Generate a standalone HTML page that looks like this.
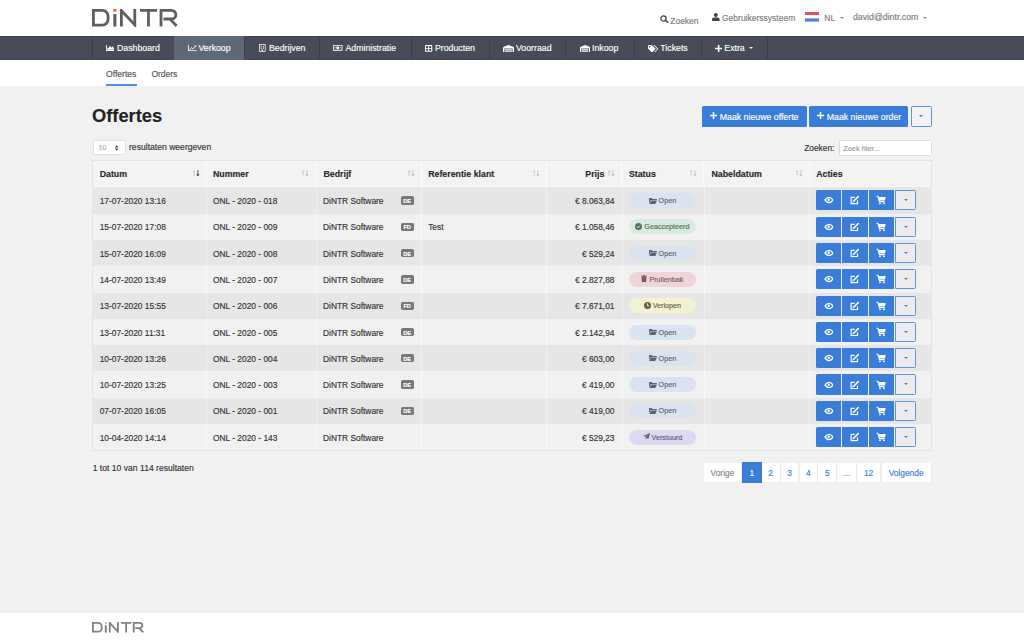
<!DOCTYPE html>
<html><head><meta charset="utf-8">
<style>
*{box-sizing:border-box;margin:0;padding:0}
html,body{width:1024px;height:640px;overflow:hidden;background:#f1f1f1;font-family:"Liberation Sans",sans-serif;color:#333}
body{-webkit-text-stroke:0.15px}
.a{position:absolute;white-space:nowrap}
#top{position:absolute;left:0;top:0;width:1024px;height:35.5px;background:#fff}
#nav{position:absolute;left:0;top:35.6px;width:1024px;height:24.6px;background:#474c58;border-top:1px solid #3d414d;border-bottom:1.5px solid #414556}
#sub{position:absolute;left:0;top:60.2px;width:1024px;height:25.5px;background:#fff}
#foot{position:absolute;left:0;top:612.8px;width:1024px;height:28px;background:#fff;box-shadow:0 -1px 4px rgba(0,0,0,.02)}
.nv{position:absolute;top:-1px;height:24.6px;border-left:1px solid #3c404b}
.nt{position:absolute;top:-0.4px;line-height:25px;color:#fff;font-size:8.75px;white-space:nowrap}
.ht{font-size:8.5px;color:#7d7d7d}
.tb{position:absolute;left:92px;width:840px}
.row{position:absolute;left:0;width:840px;height:26.3px}
.odd{background:#e6e6e6}
.even{background:#f1f1f1}
.c{position:absolute;top:0;height:100%;border-left:1px solid rgba(255,255,255,.45)}
.tx{position:absolute;font-size:8.4px;color:#333;white-space:nowrap;line-height:10px}
.th{position:absolute;font-size:8.8px;font-weight:bold;color:#2a2a2a;white-space:nowrap;line-height:10px}
.bdg{position:absolute;width:13.3px;height:8.3px;background:#777;border-radius:1.8px;color:#fff;font-size:5.6px;font-weight:bold;text-align:center;line-height:8.3px;padding-top:0.7px}
.st{position:absolute;left:7.2px;top:5.8px;width:67.2px;height:15px;border-radius:7.5px;font-size:7.2px;line-height:15px;text-align:center;white-space:nowrap}
.st svg{vertical-align:-0.5px;margin-right:2px}
.bt{position:absolute;top:3.1px;height:20.1px;background:#3a7dd8;border-radius:1px}
.bt svg{position:absolute;left:50%;top:50%;transform:translate(-50%,-50%)}
.dd{position:absolute;top:3.1px;height:20.1px;border:1px solid #5b95e0;border-radius:1px;background:#ececec}
.car{position:absolute;width:0;height:0;border-left:2.2px solid transparent;border-right:2.2px solid transparent;border-top:2.2px solid #3a7dd8}
.pg{position:absolute;top:463.3px;height:18.6px;background:#fff;border-right:1px solid #eaeaea;font-size:8.4px;line-height:20px;text-align:center;color:#3a7dd8}
</style></head><body>

<div id="top">
  <svg class="a" style="left:92px;top:9px" width="86" height="18" viewBox="0 0 86 18">
    <g fill="none" stroke="#5e5e5e" stroke-width="2.8">
      <path d="M1.4 1.4H10.3A5.8 5.8 0 0 1 16.1 7.2V10.3A5.8 5.8 0 0 1 10.3 16.1H1.4Z"/>
      <path d="M29.4 17.5V1.6L42.8 15.9V0"/>
      <path d="M48 1.4H65M56.5 1.4V17.5"/>
      <path d="M69 17.5V1.4H79.6A4.3 4.3 0 0 1 79.6 10H71.5M78 10L84.6 17"/>
    </g>
    <rect x="21.3" y="0" width="3.1" height="2.8" fill="#f26a2e"/>
    <rect x="21.3" y="5.1" width="3.1" height="12.4" fill="#5e5e5e"/>
  </svg>
  <svg class="a" style="left:659.8px;top:15.4px" width="9" height="8" viewBox="0 0 18 16"><circle cx="7" cy="7" r="5.2" stroke="#454545" stroke-width="2.6" fill="none"/><path d="M10.8 10.5L16.5 15.5" stroke="#454545" stroke-width="3"/></svg>
  <span class="a ht" style="left:670.3px;top:15.6px;font-size:8.45px">Zoeken</span>
  <svg class="a" style="left:712.3px;top:12.9px" width="7.6" height="8" viewBox="0 0 15 16"><circle cx="7.5" cy="4" r="4" fill="#3f4452"/><path d="M0 16V12.5Q0 9 3.5 9H11.5Q15 9 15 12.5V16Z" fill="#3f4452"/></svg>
  <span class="a ht" style="left:722px;top:12.8px">Gebruikerssysteem</span>
  <svg class="a" style="left:805.2px;top:12.1px" width="14" height="9.6" viewBox="0 0 14 9.6"><rect width="14" height="3.2" fill="#e1525c"/><rect y="3.2" width="14" height="3.2" fill="#fff"/><rect y="6.4" width="14" height="3.2" fill="#4b7fd2"/></svg>
  <span class="a ht" style="left:824.3px;top:12.6px">NL</span>
  <div class="car" style="left:839.5px;top:16.6px;border-top-color:#888;border-left-width:2px;border-right-width:2px;border-top-width:2px"></div>
  <span class="a ht" style="left:853px;top:12.4px;font-size:8.75px">david@dintr.com</span>
  <div class="car" style="left:923px;top:16.6px;border-top-color:#888;border-left-width:2px;border-right-width:2px;border-top-width:2px"></div>
</div>

<div id="nav">
<div class="nv" style="left:92px;width:81.80000000000001px;"></div>
<div class="a" style="left:106px;top:8.80px;line-height:0"><svg width="8.40" height="5.90" viewBox="0 0 16 12" preserveAspectRatio="none"><path d="M0 0H1.6V10.4H16V12H0Z M2.6 9.6V4.5L5 6.5L7.5 1.5L10 5.5L12.5 2.5L15 6V9.6Z" fill="#fff"/></svg></div>
<span class="nt" style="left:117px">Dashboard</span>
<div class="nv" style="left:173.8px;width:70.1px;background:#5d6879;border-left-color:#5d6879;"></div>
<div class="a" style="left:188px;top:8.60px;line-height:0"><svg width="8.50" height="6.20" viewBox="0 0 16 12" preserveAspectRatio="none"><path d="M0 0H1.6V10.4H16V12H0Z" fill="#fff"/><path d="M3 9L6.5 5L9 7.3L14.8 1.8" stroke="#fff" stroke-width="1.8" fill="none"/><path d="M12 1H15.5V4.5Z" fill="#fff"/></svg></div>
<span class="nt" style="left:198.5px">Verkoop</span>
<div class="nv" style="left:243.9px;width:75.1px;"></div>
<div class="a" style="left:259px;top:7.80px;line-height:0"><svg width="6.60" height="7.70" viewBox="0 0 12 14" preserveAspectRatio="none"><path d="M0 0H12V14H0Z M1.4 1.4V12.6H4.6V10H7.4V12.6H10.6V1.4Z M3 3H5V5H3Z M7 3H9V5H7Z M3 6.5H5V8.5H3Z M7 6.5H9V8.5H7Z" fill="#fff" fill-rule="evenodd"/></svg></div>
<span class="nt" style="left:269px">Bedrijven</span>
<div class="nv" style="left:319px;width:92px;"></div>
<div class="a" style="left:333px;top:8.70px;line-height:0"><svg width="9.50" height="5.70" viewBox="0 0 18 11" preserveAspectRatio="none"><path d="M0 0H18V11H0Z M1.6 1.6V9.4H16.4V1.6Z M9 2.6A2.9 2.9 0 1 0 9.01 2.6Z M3 4.5H5V6.5H3Z M13 4.5H15V6.5H13Z" fill="#fff" fill-rule="evenodd"/></svg></div>
<span class="nt" style="left:345.5px">Administratie</span>
<div class="nv" style="left:411px;width:77.60000000000002px;"></div>
<div class="a" style="left:425.4px;top:8.50px;line-height:0"><svg width="7.30" height="6.80" viewBox="0 0 14 14" preserveAspectRatio="none"><path d="M0 1.5Q0 0 1.5 0H12.5Q14 0 14 1.5V12.5Q14 14 12.5 14H1.5Q0 14 0 12.5Z M2 2V6.1H6.1V2Z M7.9 2V6.1H12V2Z M2 7.9V12H6.1V7.9Z M7.9 7.9V12H12V7.9Z" fill="#fff" fill-rule="evenodd"/></svg></div>
<span class="nt" style="left:435px">Producten</span>
<div class="nv" style="left:488.6px;width:76.39999999999998px;"></div>
<div class="a" style="left:503px;top:8.00px;line-height:0"><svg width="11.00" height="7.80" viewBox="0 0 20 14" preserveAspectRatio="none"><path d="M0 5Q0 3.5 1.5 3L10 0L18.5 3Q20 3.5 20 5V14H17.5V6.5H2.5V14H0Z M3.8 7.6H16.2V9.4H3.8Z M3.8 10.2H16.2V12H3.8Z M3.8 12.6H16.2V14H3.8Z" fill="#fff"/></svg></div>
<span class="nt" style="left:516px">Voorraad</span>
<div class="nv" style="left:565px;width:69px;"></div>
<div class="a" style="left:580.2px;top:8.00px;line-height:0"><svg width="10.30" height="7.80" viewBox="0 0 20 14" preserveAspectRatio="none"><path d="M0 5Q0 3.5 1.5 3L10 0L18.5 3Q20 3.5 20 5V14H17.5V6.5H2.5V14H0Z M3.8 7.6H16.2V9.4H3.8Z M3.8 10.2H16.2V12H3.8Z M3.8 12.6H16.2V14H3.8Z" fill="#fff"/></svg></div>
<span class="nt" style="left:592px">Inkoop</span>
<div class="nv" style="left:634px;width:66.70000000000005px;"></div>
<div class="a" style="left:648px;top:8.10px;line-height:0"><svg width="10.90" height="7.50" viewBox="0 0 20 14" preserveAspectRatio="none"><path d="M0 0.8Q0 0 0.8 0H6.5L14 7.2L7.2 14L0 6.5Z M3.2 2A1.3 1.3 0 1 0 3.21 2Z" fill="#fff" fill-rule="evenodd"/><path d="M9.5 0H11.5L19 7.2L12.2 14L11.2 13L17 7.2Z" fill="#fff"/></svg></div>
<span class="nt" style="left:660.3px">Tickets</span>
<div class="nv" style="left:700.7px;width:66.29999999999995px;"></div>
<div class="a" style="left:714.5px;top:8.40px;line-height:0"><svg width="7.30" height="6.90" viewBox="0 0 14 14" preserveAspectRatio="none"><path d="M5.5 0H8.5V5.5H14V8.5H8.5V14H5.5V8.5H0V5.5H5.5Z" fill="#fff"/></svg></div>
<span class="nt" style="left:724.3px">Extra</span>
<div class="nv" style="left:767px;width:1px"></div>
<div class="car" style="left:748.7px;top:10.6px;border-top-color:#fff;border-left-width:2px;border-right-width:2px;border-top-width:2px"></div>
</div>
<div id="sub">
  <span class="a" style="left:106px;top:8.5px;font-size:8.6px;color:#555">Offertes</span>
  <span class="a" style="left:151.4px;top:8.5px;font-size:8.5px;color:#555">Orders</span>
  <div class="a" style="left:106px;top:24px;width:31px;height:2px;background:#4a90e2"></div>
</div>

<span class="a" style="left:92px;top:105.4px;font-size:18.3px;font-weight:bold;color:#222">Offertes</span>
<div class="a" style="left:702.3px;top:106.1px;width:104.7px;height:20.6px;background:#3a7dd8;border-radius:1.5px"></div>
<svg class="a" style="left:710.2px;top:112.3px" width="7" height="7" viewBox="0 0 14 14"><path d="M5.5 0H8.5V5.5H14V8.5H8.5V14H5.5V8.5H0V5.5H5.5Z" fill="#fff"/></svg>
<span class="a" style="left:719.8px;top:111.9px;font-size:8.75px;color:#fff">Maak nieuwe offerte</span>
<div class="a" style="left:809.3px;top:106.1px;width:98.7px;height:20.6px;background:#3a7dd8;border-radius:1.5px"></div>
<svg class="a" style="left:817.2px;top:112.3px" width="7" height="7" viewBox="0 0 14 14"><path d="M5.5 0H8.5V5.5H14V8.5H8.5V14H5.5V8.5H0V5.5H5.5Z" fill="#fff"/></svg>
<span class="a" style="left:826.8px;top:111.9px;font-size:8.75px;color:#fff">Maak nieuwe order</span>
<div class="a" style="left:911px;top:106.1px;width:21px;height:20.6px;border:1px solid #5b95e0;border-radius:1.5px;background:#f4f4f4"></div>
<div class="car" style="left:919.3px;top:115.3px"></div>
<div class="a" style="left:92.8px;top:139.8px;width:33.3px;height:15.4px;background:#fff;border:1px solid #e0e0e0;border-radius:1.5px"></div>
<span class="a" style="left:98.6px;top:143.4px;font-size:7.2px;color:#aaa">10</span>
<svg class="a" style="left:115.2px;top:145.1px" width="3.4" height="5.8" viewBox="0 0 7 12"><path d="M0 5L3.5 0L7 5Z M0 7L3.5 12L7 7Z" fill="#444"/></svg>
<span class="a" style="left:129px;top:142.3px;font-size:8.6px;color:#333">resultaten weergeven</span>
<span class="a" style="left:804.2px;top:143.2px;font-size:8.4px;color:#333">Zoeken:</span>
<div class="a" style="left:838.9px;top:140.4px;width:92.8px;height:15.3px;background:#fff;border:1px solid #dcdcdc;border-radius:1.5px"></div>
<span class="a" style="left:843.2px;top:144px;font-size:7.4px;color:#999">Zoek hier...</span>
<div class="tb" style="top:159.5px;height:290.8px;border:1px solid #e4e4e4;border-top-color:#e9e9e9"></div>
<div class="a" style="left:92px;top:159.5px;width:840px;height:27.8px;background:#f3f3f3;border:1px solid #e6e6e6;border-bottom:1.5px solid #f7f7f9"></div>
<span class="th" style="left:99.7px;top:169.1px">Datum</span>
<div class="a" style="left:193.0px;top:169.7px;line-height:0"><svg width="7" height="6.5" viewBox="0 0 14 13"><path d="M2.3 13V3" stroke="#bdbdbd" stroke-width="1.4" fill="none"/><path d="M0 4L2.3 0.5L4.6 4Z" fill="#bdbdbd"/><path d="M9.8 0V10" stroke="#3a3a3a" stroke-width="1.7" fill="none"/><path d="M6.6 8.6L9.8 13L13 8.6Z" fill="#3a3a3a"/></svg></div>
<span class="th" style="left:213px;top:169.1px">Nummer</span>
<div class="a" style="left:302.4px;top:169.7px;line-height:0"><svg width="7" height="6.5" viewBox="0 0 14 13"><path d="M2.3 13V3" stroke="#bdbdbd" stroke-width="1.4" fill="none"/><path d="M0 4L2.3 0.5L4.6 4Z" fill="#bdbdbd"/><path d="M9.8 0V10" stroke="#bdbdbd" stroke-width="1.7" fill="none"/><path d="M6.6 8.6L9.8 13L13 8.6Z" fill="#bdbdbd"/></svg></div>
<span class="th" style="left:323.4px;top:169.1px">Bedrijf</span>
<div class="a" style="left:408.1px;top:169.7px;line-height:0"><svg width="7" height="6.5" viewBox="0 0 14 13"><path d="M2.3 13V3" stroke="#bdbdbd" stroke-width="1.4" fill="none"/><path d="M0 4L2.3 0.5L4.6 4Z" fill="#bdbdbd"/><path d="M9.8 0V10" stroke="#bdbdbd" stroke-width="1.7" fill="none"/><path d="M6.6 8.6L9.8 13L13 8.6Z" fill="#bdbdbd"/></svg></div>
<span class="th" style="left:428.2px;top:169.1px">Referentie klant</span>
<div class="a" style="left:532.8px;top:169.7px;line-height:0"><svg width="7" height="6.5" viewBox="0 0 14 13"><path d="M2.3 13V3" stroke="#bdbdbd" stroke-width="1.4" fill="none"/><path d="M0 4L2.3 0.5L4.6 4Z" fill="#bdbdbd"/><path d="M9.8 0V10" stroke="#bdbdbd" stroke-width="1.7" fill="none"/><path d="M6.6 8.6L9.8 13L13 8.6Z" fill="#bdbdbd"/></svg></div>
<span class="th" style="left:585.3px;top:169.1px">Prijs</span>
<div class="a" style="left:608.4px;top:169.7px;line-height:0"><svg width="7" height="6.5" viewBox="0 0 14 13"><path d="M2.3 13V3" stroke="#bdbdbd" stroke-width="1.4" fill="none"/><path d="M0 4L2.3 0.5L4.6 4Z" fill="#bdbdbd"/><path d="M9.8 0V10" stroke="#bdbdbd" stroke-width="1.7" fill="none"/><path d="M6.6 8.6L9.8 13L13 8.6Z" fill="#bdbdbd"/></svg></div>
<span class="th" style="left:628.9px;top:169.1px">Status</span>
<div class="a" style="left:690.4px;top:169.7px;line-height:0"><svg width="7" height="6.5" viewBox="0 0 14 13"><path d="M2.3 13V3" stroke="#bdbdbd" stroke-width="1.4" fill="none"/><path d="M0 4L2.3 0.5L4.6 4Z" fill="#bdbdbd"/><path d="M9.8 0V10" stroke="#bdbdbd" stroke-width="1.7" fill="none"/><path d="M6.6 8.6L9.8 13L13 8.6Z" fill="#bdbdbd"/></svg></div>
<span class="th" style="left:711.5px;top:169.1px">Nabeldatum</span>
<div class="a" style="left:796.1px;top:169.7px;line-height:0"><svg width="7" height="6.5" viewBox="0 0 14 13"><path d="M2.3 13V3" stroke="#bdbdbd" stroke-width="1.4" fill="none"/><path d="M0 4L2.3 0.5L4.6 4Z" fill="#bdbdbd"/><path d="M9.8 0V10" stroke="#bdbdbd" stroke-width="1.7" fill="none"/><path d="M6.6 8.6L9.8 13L13 8.6Z" fill="#bdbdbd"/></svg></div>
<span class="th" style="left:816.2px;top:169.1px">Acties</span>
<div class="a" style="left:205.9px;top:160.0px;width:1px;height:26.8px;background:#fafafa"></div>
<div class="a" style="left:315.1px;top:160.0px;width:1px;height:26.8px;background:#fafafa"></div>
<div class="a" style="left:420.8px;top:160.0px;width:1px;height:26.8px;background:#fafafa"></div>
<div class="a" style="left:545.5px;top:160.0px;width:1px;height:26.8px;background:#fafafa"></div>
<div class="a" style="left:621.1px;top:160.0px;width:1px;height:26.8px;background:#fafafa"></div>
<div class="a" style="left:703.1px;top:160.0px;width:1px;height:26.8px;background:#fafafa"></div>
<div class="a" style="left:808.8px;top:160.0px;width:1px;height:26.8px;background:#fafafa"></div>
<div class="row odd" style="left:92px;top:187.30px">
<div class="c" style="left:114.4px"></div>
<div class="c" style="left:223.6px"></div>
<div class="c" style="left:329.3px"></div>
<div class="c" style="left:454.0px"></div>
<div class="c" style="left:529.6px"></div>
<div class="c" style="left:611.6px"></div>
<div class="c" style="left:717.3px"></div>
<span class="tx" style="left:7.7px;top:8.8px">17-07-2020 13:16</span>
<span class="tx" style="left:121px;top:8.8px">ONL - 2020 - 018</span>
<span class="tx" style="left:231px;top:8.8px">DiNTR Software</span>
<span class="bdg" style="left:308.5px;top:9.100000000000001px">DE</span>
<span class="tx" style="right:317.5px;top:8.8px">€ 8.063,84</span>
<div class="st" style="left:536.8px;background:#dbe3f1;color:#5b6372"><svg width="8" height="6" viewBox="0 0 16 12"><path d="M0 1.5Q0 0 1.5 0H5.5L7 1.8H14.5Q16 1.8 16 3.3V3.8H3.5L0 10Z M3.9 4.8H16L12.5 12H0.4Z" fill="currentColor"/></svg>Open</div>
<div class="bt" style="left:724px;width:25px;border-radius:1.5px 0 0 1.5px"><svg width="9.6" height="7.4" viewBox="0 0 19.2 14.8"><path d="M1.4 7.4Q9.6 -3 17.8 7.4Q9.6 17.8 1.4 7.4Z" stroke="#fff" stroke-width="2.5" fill="none"/><circle cx="9" cy="6.8" r="2.4" fill="#fff"/></svg></div>
<div class="bt" style="left:749.9px;width:25.7px;border-radius:0"><svg width="10" height="9.4" viewBox="0 0 20 18.8"><path d="M9.5 4.2H2.2V16.6H15V10.5" stroke="#fff" stroke-width="2.4" fill="none"/><path d="M6.8 12.4L17.5 1.7" stroke="#fff" stroke-width="3" fill="none"/><path d="M5.6 10.6L8.6 13.6L5 14.3Z" fill="#fff"/></svg></div>
<div class="bt" style="left:776.5px;width:25.7px;border-radius:0"><svg width="9.6" height="9" viewBox="0 0 20 18.6"><path d="M0 1.3H3.6L6.6 12.6H17.6" stroke="#fff" stroke-width="2.4" fill="none" stroke-linejoin="round"/><path d="M4.2 3.2H19.8L18.2 10.6H6.2Z" fill="#fff"/><circle cx="7.8" cy="16.4" r="2" fill="#fff"/><circle cx="16.2" cy="16.4" r="2" fill="#fff"/></svg></div>
<div class="dd" style="left:803px;width:20.7px;border-radius:0 1.5px 1.5px 0"><div class="car" style="left:7.6px;top:8px"></div></div>
</div>
<div class="row even" style="left:92px;top:213.60px">
<div class="c" style="left:114.4px"></div>
<div class="c" style="left:223.6px"></div>
<div class="c" style="left:329.3px"></div>
<div class="c" style="left:454.0px"></div>
<div class="c" style="left:529.6px"></div>
<div class="c" style="left:611.6px"></div>
<div class="c" style="left:717.3px"></div>
<span class="tx" style="left:7.7px;top:8.8px">15-07-2020 17:08</span>
<span class="tx" style="left:121px;top:8.8px">ONL - 2020 - 009</span>
<span class="tx" style="left:231px;top:8.8px">DiNTR Software</span>
<span class="bdg" style="left:308.5px;top:9.100000000000001px">FD</span>
<span class="tx" style="left:336.2px;top:8.8px">Test</span>
<span class="tx" style="right:317.5px;top:8.8px">€ 1.058,46</span>
<div class="st" style="left:536.8px;background:#d7ecdf;color:#5a6b60"><svg width="7" height="7" viewBox="0 0 16 16"><circle cx="8" cy="8" r="8" fill="currentColor"/><path d="M4.2 8.2L7 11L12 5.4" stroke="#d7eee0" stroke-width="2.2" fill="none"/></svg>Geaccepteerd</div>
<div class="bt" style="left:724px;width:25px;border-radius:1.5px 0 0 1.5px"><svg width="9.6" height="7.4" viewBox="0 0 19.2 14.8"><path d="M1.4 7.4Q9.6 -3 17.8 7.4Q9.6 17.8 1.4 7.4Z" stroke="#fff" stroke-width="2.5" fill="none"/><circle cx="9" cy="6.8" r="2.4" fill="#fff"/></svg></div>
<div class="bt" style="left:749.9px;width:25.7px;border-radius:0"><svg width="10" height="9.4" viewBox="0 0 20 18.8"><path d="M9.5 4.2H2.2V16.6H15V10.5" stroke="#fff" stroke-width="2.4" fill="none"/><path d="M6.8 12.4L17.5 1.7" stroke="#fff" stroke-width="3" fill="none"/><path d="M5.6 10.6L8.6 13.6L5 14.3Z" fill="#fff"/></svg></div>
<div class="bt" style="left:776.5px;width:25.7px;border-radius:0"><svg width="9.6" height="9" viewBox="0 0 20 18.6"><path d="M0 1.3H3.6L6.6 12.6H17.6" stroke="#fff" stroke-width="2.4" fill="none" stroke-linejoin="round"/><path d="M4.2 3.2H19.8L18.2 10.6H6.2Z" fill="#fff"/><circle cx="7.8" cy="16.4" r="2" fill="#fff"/><circle cx="16.2" cy="16.4" r="2" fill="#fff"/></svg></div>
<div class="dd" style="left:803px;width:20.7px;border-radius:0 1.5px 1.5px 0"><div class="car" style="left:7.6px;top:8px"></div></div>
</div>
<div class="row odd" style="left:92px;top:239.90px">
<div class="c" style="left:114.4px"></div>
<div class="c" style="left:223.6px"></div>
<div class="c" style="left:329.3px"></div>
<div class="c" style="left:454.0px"></div>
<div class="c" style="left:529.6px"></div>
<div class="c" style="left:611.6px"></div>
<div class="c" style="left:717.3px"></div>
<span class="tx" style="left:7.7px;top:8.8px">15-07-2020 16:09</span>
<span class="tx" style="left:121px;top:8.8px">ONL - 2020 - 008</span>
<span class="tx" style="left:231px;top:8.8px">DiNTR Software</span>
<span class="bdg" style="left:308.5px;top:9.100000000000001px">DE</span>
<span class="tx" style="right:317.5px;top:8.8px">€ 529,24</span>
<div class="st" style="left:536.8px;background:#dbe3f1;color:#5b6372"><svg width="8" height="6" viewBox="0 0 16 12"><path d="M0 1.5Q0 0 1.5 0H5.5L7 1.8H14.5Q16 1.8 16 3.3V3.8H3.5L0 10Z M3.9 4.8H16L12.5 12H0.4Z" fill="currentColor"/></svg>Open</div>
<div class="bt" style="left:724px;width:25px;border-radius:1.5px 0 0 1.5px"><svg width="9.6" height="7.4" viewBox="0 0 19.2 14.8"><path d="M1.4 7.4Q9.6 -3 17.8 7.4Q9.6 17.8 1.4 7.4Z" stroke="#fff" stroke-width="2.5" fill="none"/><circle cx="9" cy="6.8" r="2.4" fill="#fff"/></svg></div>
<div class="bt" style="left:749.9px;width:25.7px;border-radius:0"><svg width="10" height="9.4" viewBox="0 0 20 18.8"><path d="M9.5 4.2H2.2V16.6H15V10.5" stroke="#fff" stroke-width="2.4" fill="none"/><path d="M6.8 12.4L17.5 1.7" stroke="#fff" stroke-width="3" fill="none"/><path d="M5.6 10.6L8.6 13.6L5 14.3Z" fill="#fff"/></svg></div>
<div class="bt" style="left:776.5px;width:25.7px;border-radius:0"><svg width="9.6" height="9" viewBox="0 0 20 18.6"><path d="M0 1.3H3.6L6.6 12.6H17.6" stroke="#fff" stroke-width="2.4" fill="none" stroke-linejoin="round"/><path d="M4.2 3.2H19.8L18.2 10.6H6.2Z" fill="#fff"/><circle cx="7.8" cy="16.4" r="2" fill="#fff"/><circle cx="16.2" cy="16.4" r="2" fill="#fff"/></svg></div>
<div class="dd" style="left:803px;width:20.7px;border-radius:0 1.5px 1.5px 0"><div class="car" style="left:7.6px;top:8px"></div></div>
</div>
<div class="row even" style="left:92px;top:266.20px">
<div class="c" style="left:114.4px"></div>
<div class="c" style="left:223.6px"></div>
<div class="c" style="left:329.3px"></div>
<div class="c" style="left:454.0px"></div>
<div class="c" style="left:529.6px"></div>
<div class="c" style="left:611.6px"></div>
<div class="c" style="left:717.3px"></div>
<span class="tx" style="left:7.7px;top:8.8px">14-07-2020 13:49</span>
<span class="tx" style="left:121px;top:8.8px">ONL - 2020 - 007</span>
<span class="tx" style="left:231px;top:8.8px">DiNTR Software</span>
<span class="bdg" style="left:308.5px;top:9.100000000000001px">DE</span>
<span class="tx" style="right:317.5px;top:8.8px">€ 2.827,88</span>
<div class="st" style="left:536.8px;background:#efd5d9;color:#7d5a61"><svg width="6" height="7" viewBox="0 0 12 14"><path d="M0 1.5H12V3H0Z M4 0H8V1.5H4Z M1 3.6H11L10.3 14H1.7Z" fill="currentColor"/></svg>Prullenbak</div>
<div class="bt" style="left:724px;width:25px;border-radius:1.5px 0 0 1.5px"><svg width="9.6" height="7.4" viewBox="0 0 19.2 14.8"><path d="M1.4 7.4Q9.6 -3 17.8 7.4Q9.6 17.8 1.4 7.4Z" stroke="#fff" stroke-width="2.5" fill="none"/><circle cx="9" cy="6.8" r="2.4" fill="#fff"/></svg></div>
<div class="bt" style="left:749.9px;width:25.7px;border-radius:0"><svg width="10" height="9.4" viewBox="0 0 20 18.8"><path d="M9.5 4.2H2.2V16.6H15V10.5" stroke="#fff" stroke-width="2.4" fill="none"/><path d="M6.8 12.4L17.5 1.7" stroke="#fff" stroke-width="3" fill="none"/><path d="M5.6 10.6L8.6 13.6L5 14.3Z" fill="#fff"/></svg></div>
<div class="bt" style="left:776.5px;width:25.7px;border-radius:0"><svg width="9.6" height="9" viewBox="0 0 20 18.6"><path d="M0 1.3H3.6L6.6 12.6H17.6" stroke="#fff" stroke-width="2.4" fill="none" stroke-linejoin="round"/><path d="M4.2 3.2H19.8L18.2 10.6H6.2Z" fill="#fff"/><circle cx="7.8" cy="16.4" r="2" fill="#fff"/><circle cx="16.2" cy="16.4" r="2" fill="#fff"/></svg></div>
<div class="dd" style="left:803px;width:20.7px;border-radius:0 1.5px 1.5px 0"><div class="car" style="left:7.6px;top:8px"></div></div>
</div>
<div class="row odd" style="left:92px;top:292.50px">
<div class="c" style="left:114.4px"></div>
<div class="c" style="left:223.6px"></div>
<div class="c" style="left:329.3px"></div>
<div class="c" style="left:454.0px"></div>
<div class="c" style="left:529.6px"></div>
<div class="c" style="left:611.6px"></div>
<div class="c" style="left:717.3px"></div>
<span class="tx" style="left:7.7px;top:8.8px">13-07-2020 15:55</span>
<span class="tx" style="left:121px;top:8.8px">ONL - 2020 - 006</span>
<span class="tx" style="left:231px;top:8.8px">DiNTR Software</span>
<span class="bdg" style="left:308.5px;top:9.100000000000001px">FD</span>
<span class="tx" style="right:317.5px;top:8.8px">€ 7.671,01</span>
<div class="st" style="left:536.8px;background:#f3f1d3;color:#66634c"><svg width="7" height="7" viewBox="0 0 16 16"><circle cx="8" cy="8" r="8" fill="currentColor"/><path d="M8 3.2V8.6H11.6" stroke="#f3f1d3" stroke-width="2.2" fill="none"/></svg>Verlopen</div>
<div class="bt" style="left:724px;width:25px;border-radius:1.5px 0 0 1.5px"><svg width="9.6" height="7.4" viewBox="0 0 19.2 14.8"><path d="M1.4 7.4Q9.6 -3 17.8 7.4Q9.6 17.8 1.4 7.4Z" stroke="#fff" stroke-width="2.5" fill="none"/><circle cx="9" cy="6.8" r="2.4" fill="#fff"/></svg></div>
<div class="bt" style="left:749.9px;width:25.7px;border-radius:0"><svg width="10" height="9.4" viewBox="0 0 20 18.8"><path d="M9.5 4.2H2.2V16.6H15V10.5" stroke="#fff" stroke-width="2.4" fill="none"/><path d="M6.8 12.4L17.5 1.7" stroke="#fff" stroke-width="3" fill="none"/><path d="M5.6 10.6L8.6 13.6L5 14.3Z" fill="#fff"/></svg></div>
<div class="bt" style="left:776.5px;width:25.7px;border-radius:0"><svg width="9.6" height="9" viewBox="0 0 20 18.6"><path d="M0 1.3H3.6L6.6 12.6H17.6" stroke="#fff" stroke-width="2.4" fill="none" stroke-linejoin="round"/><path d="M4.2 3.2H19.8L18.2 10.6H6.2Z" fill="#fff"/><circle cx="7.8" cy="16.4" r="2" fill="#fff"/><circle cx="16.2" cy="16.4" r="2" fill="#fff"/></svg></div>
<div class="dd" style="left:803px;width:20.7px;border-radius:0 1.5px 1.5px 0"><div class="car" style="left:7.6px;top:8px"></div></div>
</div>
<div class="row even" style="left:92px;top:318.80px">
<div class="c" style="left:114.4px"></div>
<div class="c" style="left:223.6px"></div>
<div class="c" style="left:329.3px"></div>
<div class="c" style="left:454.0px"></div>
<div class="c" style="left:529.6px"></div>
<div class="c" style="left:611.6px"></div>
<div class="c" style="left:717.3px"></div>
<span class="tx" style="left:7.7px;top:8.8px">13-07-2020 11:31</span>
<span class="tx" style="left:121px;top:8.8px">ONL - 2020 - 005</span>
<span class="tx" style="left:231px;top:8.8px">DiNTR Software</span>
<span class="bdg" style="left:308.5px;top:9.100000000000001px">DE</span>
<span class="tx" style="right:317.5px;top:8.8px">€ 2.142,94</span>
<div class="st" style="left:536.8px;background:#dbe3f1;color:#5b6372"><svg width="8" height="6" viewBox="0 0 16 12"><path d="M0 1.5Q0 0 1.5 0H5.5L7 1.8H14.5Q16 1.8 16 3.3V3.8H3.5L0 10Z M3.9 4.8H16L12.5 12H0.4Z" fill="currentColor"/></svg>Open</div>
<div class="bt" style="left:724px;width:25px;border-radius:1.5px 0 0 1.5px"><svg width="9.6" height="7.4" viewBox="0 0 19.2 14.8"><path d="M1.4 7.4Q9.6 -3 17.8 7.4Q9.6 17.8 1.4 7.4Z" stroke="#fff" stroke-width="2.5" fill="none"/><circle cx="9" cy="6.8" r="2.4" fill="#fff"/></svg></div>
<div class="bt" style="left:749.9px;width:25.7px;border-radius:0"><svg width="10" height="9.4" viewBox="0 0 20 18.8"><path d="M9.5 4.2H2.2V16.6H15V10.5" stroke="#fff" stroke-width="2.4" fill="none"/><path d="M6.8 12.4L17.5 1.7" stroke="#fff" stroke-width="3" fill="none"/><path d="M5.6 10.6L8.6 13.6L5 14.3Z" fill="#fff"/></svg></div>
<div class="bt" style="left:776.5px;width:25.7px;border-radius:0"><svg width="9.6" height="9" viewBox="0 0 20 18.6"><path d="M0 1.3H3.6L6.6 12.6H17.6" stroke="#fff" stroke-width="2.4" fill="none" stroke-linejoin="round"/><path d="M4.2 3.2H19.8L18.2 10.6H6.2Z" fill="#fff"/><circle cx="7.8" cy="16.4" r="2" fill="#fff"/><circle cx="16.2" cy="16.4" r="2" fill="#fff"/></svg></div>
<div class="dd" style="left:803px;width:20.7px;border-radius:0 1.5px 1.5px 0"><div class="car" style="left:7.6px;top:8px"></div></div>
</div>
<div class="row odd" style="left:92px;top:345.10px">
<div class="c" style="left:114.4px"></div>
<div class="c" style="left:223.6px"></div>
<div class="c" style="left:329.3px"></div>
<div class="c" style="left:454.0px"></div>
<div class="c" style="left:529.6px"></div>
<div class="c" style="left:611.6px"></div>
<div class="c" style="left:717.3px"></div>
<span class="tx" style="left:7.7px;top:8.8px">10-07-2020 13:26</span>
<span class="tx" style="left:121px;top:8.8px">ONL - 2020 - 004</span>
<span class="tx" style="left:231px;top:8.8px">DiNTR Software</span>
<span class="bdg" style="left:308.5px;top:9.100000000000001px">DE</span>
<span class="tx" style="right:317.5px;top:8.8px">€ 603,00</span>
<div class="st" style="left:536.8px;background:#dbe3f1;color:#5b6372"><svg width="8" height="6" viewBox="0 0 16 12"><path d="M0 1.5Q0 0 1.5 0H5.5L7 1.8H14.5Q16 1.8 16 3.3V3.8H3.5L0 10Z M3.9 4.8H16L12.5 12H0.4Z" fill="currentColor"/></svg>Open</div>
<div class="bt" style="left:724px;width:25px;border-radius:1.5px 0 0 1.5px"><svg width="9.6" height="7.4" viewBox="0 0 19.2 14.8"><path d="M1.4 7.4Q9.6 -3 17.8 7.4Q9.6 17.8 1.4 7.4Z" stroke="#fff" stroke-width="2.5" fill="none"/><circle cx="9" cy="6.8" r="2.4" fill="#fff"/></svg></div>
<div class="bt" style="left:749.9px;width:25.7px;border-radius:0"><svg width="10" height="9.4" viewBox="0 0 20 18.8"><path d="M9.5 4.2H2.2V16.6H15V10.5" stroke="#fff" stroke-width="2.4" fill="none"/><path d="M6.8 12.4L17.5 1.7" stroke="#fff" stroke-width="3" fill="none"/><path d="M5.6 10.6L8.6 13.6L5 14.3Z" fill="#fff"/></svg></div>
<div class="bt" style="left:776.5px;width:25.7px;border-radius:0"><svg width="9.6" height="9" viewBox="0 0 20 18.6"><path d="M0 1.3H3.6L6.6 12.6H17.6" stroke="#fff" stroke-width="2.4" fill="none" stroke-linejoin="round"/><path d="M4.2 3.2H19.8L18.2 10.6H6.2Z" fill="#fff"/><circle cx="7.8" cy="16.4" r="2" fill="#fff"/><circle cx="16.2" cy="16.4" r="2" fill="#fff"/></svg></div>
<div class="dd" style="left:803px;width:20.7px;border-radius:0 1.5px 1.5px 0"><div class="car" style="left:7.6px;top:8px"></div></div>
</div>
<div class="row even" style="left:92px;top:371.40px">
<div class="c" style="left:114.4px"></div>
<div class="c" style="left:223.6px"></div>
<div class="c" style="left:329.3px"></div>
<div class="c" style="left:454.0px"></div>
<div class="c" style="left:529.6px"></div>
<div class="c" style="left:611.6px"></div>
<div class="c" style="left:717.3px"></div>
<span class="tx" style="left:7.7px;top:8.8px">10-07-2020 13:25</span>
<span class="tx" style="left:121px;top:8.8px">ONL - 2020 - 003</span>
<span class="tx" style="left:231px;top:8.8px">DiNTR Software</span>
<span class="bdg" style="left:308.5px;top:9.100000000000001px">DE</span>
<span class="tx" style="right:317.5px;top:8.8px">€ 419,00</span>
<div class="st" style="left:536.8px;background:#dbe3f1;color:#5b6372"><svg width="8" height="6" viewBox="0 0 16 12"><path d="M0 1.5Q0 0 1.5 0H5.5L7 1.8H14.5Q16 1.8 16 3.3V3.8H3.5L0 10Z M3.9 4.8H16L12.5 12H0.4Z" fill="currentColor"/></svg>Open</div>
<div class="bt" style="left:724px;width:25px;border-radius:1.5px 0 0 1.5px"><svg width="9.6" height="7.4" viewBox="0 0 19.2 14.8"><path d="M1.4 7.4Q9.6 -3 17.8 7.4Q9.6 17.8 1.4 7.4Z" stroke="#fff" stroke-width="2.5" fill="none"/><circle cx="9" cy="6.8" r="2.4" fill="#fff"/></svg></div>
<div class="bt" style="left:749.9px;width:25.7px;border-radius:0"><svg width="10" height="9.4" viewBox="0 0 20 18.8"><path d="M9.5 4.2H2.2V16.6H15V10.5" stroke="#fff" stroke-width="2.4" fill="none"/><path d="M6.8 12.4L17.5 1.7" stroke="#fff" stroke-width="3" fill="none"/><path d="M5.6 10.6L8.6 13.6L5 14.3Z" fill="#fff"/></svg></div>
<div class="bt" style="left:776.5px;width:25.7px;border-radius:0"><svg width="9.6" height="9" viewBox="0 0 20 18.6"><path d="M0 1.3H3.6L6.6 12.6H17.6" stroke="#fff" stroke-width="2.4" fill="none" stroke-linejoin="round"/><path d="M4.2 3.2H19.8L18.2 10.6H6.2Z" fill="#fff"/><circle cx="7.8" cy="16.4" r="2" fill="#fff"/><circle cx="16.2" cy="16.4" r="2" fill="#fff"/></svg></div>
<div class="dd" style="left:803px;width:20.7px;border-radius:0 1.5px 1.5px 0"><div class="car" style="left:7.6px;top:8px"></div></div>
</div>
<div class="row odd" style="left:92px;top:397.70px">
<div class="c" style="left:114.4px"></div>
<div class="c" style="left:223.6px"></div>
<div class="c" style="left:329.3px"></div>
<div class="c" style="left:454.0px"></div>
<div class="c" style="left:529.6px"></div>
<div class="c" style="left:611.6px"></div>
<div class="c" style="left:717.3px"></div>
<span class="tx" style="left:7.7px;top:8.8px">07-07-2020 16:05</span>
<span class="tx" style="left:121px;top:8.8px">ONL - 2020 - 001</span>
<span class="tx" style="left:231px;top:8.8px">DiNTR Software</span>
<span class="bdg" style="left:308.5px;top:9.100000000000001px">DE</span>
<span class="tx" style="right:317.5px;top:8.8px">€ 419,00</span>
<div class="st" style="left:536.8px;background:#dbe3f1;color:#5b6372"><svg width="8" height="6" viewBox="0 0 16 12"><path d="M0 1.5Q0 0 1.5 0H5.5L7 1.8H14.5Q16 1.8 16 3.3V3.8H3.5L0 10Z M3.9 4.8H16L12.5 12H0.4Z" fill="currentColor"/></svg>Open</div>
<div class="bt" style="left:724px;width:25px;border-radius:1.5px 0 0 1.5px"><svg width="9.6" height="7.4" viewBox="0 0 19.2 14.8"><path d="M1.4 7.4Q9.6 -3 17.8 7.4Q9.6 17.8 1.4 7.4Z" stroke="#fff" stroke-width="2.5" fill="none"/><circle cx="9" cy="6.8" r="2.4" fill="#fff"/></svg></div>
<div class="bt" style="left:749.9px;width:25.7px;border-radius:0"><svg width="10" height="9.4" viewBox="0 0 20 18.8"><path d="M9.5 4.2H2.2V16.6H15V10.5" stroke="#fff" stroke-width="2.4" fill="none"/><path d="M6.8 12.4L17.5 1.7" stroke="#fff" stroke-width="3" fill="none"/><path d="M5.6 10.6L8.6 13.6L5 14.3Z" fill="#fff"/></svg></div>
<div class="bt" style="left:776.5px;width:25.7px;border-radius:0"><svg width="9.6" height="9" viewBox="0 0 20 18.6"><path d="M0 1.3H3.6L6.6 12.6H17.6" stroke="#fff" stroke-width="2.4" fill="none" stroke-linejoin="round"/><path d="M4.2 3.2H19.8L18.2 10.6H6.2Z" fill="#fff"/><circle cx="7.8" cy="16.4" r="2" fill="#fff"/><circle cx="16.2" cy="16.4" r="2" fill="#fff"/></svg></div>
<div class="dd" style="left:803px;width:20.7px;border-radius:0 1.5px 1.5px 0"><div class="car" style="left:7.6px;top:8px"></div></div>
</div>
<div class="row even" style="left:92px;top:424.00px">
<div class="c" style="left:114.4px"></div>
<div class="c" style="left:223.6px"></div>
<div class="c" style="left:329.3px"></div>
<div class="c" style="left:454.0px"></div>
<div class="c" style="left:529.6px"></div>
<div class="c" style="left:611.6px"></div>
<div class="c" style="left:717.3px"></div>
<span class="tx" style="left:7.7px;top:8.8px">10-04-2020 14:14</span>
<span class="tx" style="left:121px;top:8.8px">ONL - 2020 - 143</span>
<span class="tx" style="left:231px;top:8.8px">DiNTR Software</span>
<span class="tx" style="right:317.5px;top:8.8px">€ 529,23</span>
<div class="st" style="left:536.8px;background:#dcd9f0;color:#5c5b80"><svg width="7" height="7" viewBox="0 0 16 16"><path d="M16 0L0 7L4.5 8.8L13 2.5L6 9.8V15L8.7 11.5L12.5 13.5Z" fill="currentColor"/></svg>Verstuurd</div>
<div class="bt" style="left:724px;width:25px;border-radius:1.5px 0 0 1.5px"><svg width="9.6" height="7.4" viewBox="0 0 19.2 14.8"><path d="M1.4 7.4Q9.6 -3 17.8 7.4Q9.6 17.8 1.4 7.4Z" stroke="#fff" stroke-width="2.5" fill="none"/><circle cx="9" cy="6.8" r="2.4" fill="#fff"/></svg></div>
<div class="bt" style="left:749.9px;width:25.7px;border-radius:0"><svg width="10" height="9.4" viewBox="0 0 20 18.8"><path d="M9.5 4.2H2.2V16.6H15V10.5" stroke="#fff" stroke-width="2.4" fill="none"/><path d="M6.8 12.4L17.5 1.7" stroke="#fff" stroke-width="3" fill="none"/><path d="M5.6 10.6L8.6 13.6L5 14.3Z" fill="#fff"/></svg></div>
<div class="bt" style="left:776.5px;width:25.7px;border-radius:0"><svg width="9.6" height="9" viewBox="0 0 20 18.6"><path d="M0 1.3H3.6L6.6 12.6H17.6" stroke="#fff" stroke-width="2.4" fill="none" stroke-linejoin="round"/><path d="M4.2 3.2H19.8L18.2 10.6H6.2Z" fill="#fff"/><circle cx="7.8" cy="16.4" r="2" fill="#fff"/><circle cx="16.2" cy="16.4" r="2" fill="#fff"/></svg></div>
<div class="dd" style="left:803px;width:20.7px;border-radius:0 1.5px 1.5px 0"><div class="car" style="left:7.6px;top:8px"></div></div>
</div>
<div class="a" style="left:92px;top:159.5px;width:840px;height:291.30px;border:1px solid #e3e3e3"></div>
<span class="a" style="left:92.7px;top:462.7px;font-size:8.6px;color:#333">1 tot 10 van 114 resultaten</span>
<div class="pg" style="left:703.9px;width:38.10000000000002px;color:#888;">Vorige</div>
<div class="pg" style="left:742px;width:19.700000000000045px;top:462px;height:20.8px;line-height:22.2px;background:#3a7dd8;color:#fff;border:none">1</div>
<div class="pg" style="left:761.7px;width:18.899999999999977px;">2</div>
<div class="pg" style="left:780.6px;width:18.899999999999977px;">3</div>
<div class="pg" style="left:799.5px;width:18.899999999999977px;">4</div>
<div class="pg" style="left:818.4px;width:18.899999999999977px;">5</div>
<div class="pg" style="left:837.3px;width:19.40000000000009px;color:#888;">…</div>
<div class="pg" style="left:856.7px;width:24.799999999999955px;">12</div>
<div class="pg" style="left:881.5px;width:50.200000000000045px;">Volgende</div>
<div id="foot">
  <svg class="a" style="left:91.8px;top:9.4px" width="52" height="10.6" viewBox="0 0 86 17.5">
    <g fill="none" stroke="#808080" stroke-width="3">
      <path d="M1.5 1.5H10.3A5.8 5.8 0 0 1 16.1 7.2V10.3A5.8 5.8 0 0 1 10.3 16H1.5Z"/>
      <path d="M29.4 17.5V1.6L42.8 15.9V0"/>
      <path d="M48 1.5H65M56.5 1.5V17.5"/>
      <path d="M69 17.5V1.5H79.6A4.3 4.3 0 0 1 79.6 10H71.5M78 10L84.6 17"/>
    </g>
    <rect x="21.2" y="0" width="3.2" height="3" fill="#f5a06a"/>
    <rect x="21.2" y="5.1" width="3.2" height="12.4" fill="#808080"/>
  </svg>
</div>

</body></html>
